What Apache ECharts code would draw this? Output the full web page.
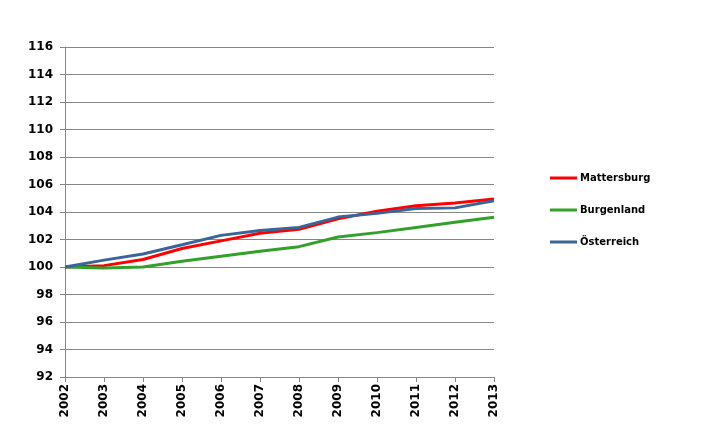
<!DOCTYPE html>
<html><head><meta charset="utf-8">
<script src="https://cdn.jsdelivr.net/npm/echarts@6/dist/echarts.min.js"></script>
<style>html,body{margin:0;padding:0;background:#fff}#c{width:714px;height:432px}</style>
</head><body><div id="c"></div>
<script>
const years = ['2002','2003','2004','2005','2006','2007','2008','2009','2010','2011','2012','2013'];
const mattersburg = [100, 100.1, 100.55, 101.35, 101.9, 102.45, 102.75, 103.5, 104.05, 104.45, 104.65, 104.95];
const burgenland = [100, 99.92, 100.0, 100.42, 100.78, 101.14, 101.48, 102.18, 102.5, 102.88, 103.25, 103.62];
const oesterreich = [100, 100.5, 100.95, 101.62, 102.3, 102.66, 102.88, 103.63, 103.9, 104.25, 104.3, 104.82];

const chart = echarts.init(document.getElementById('c'), null, {renderer:'canvas'});
const font = 'DejaVu Sans';
function line(name, data, color){
  return {name, type:'line', data, symbol:'none', smooth:false,
    lineStyle:{color, width:3}, itemStyle:{color}, animation:false};
}
chart.setOption({
  animation:false,
  backgroundColor:'#fff',
  grid:{left:65, right:220, top:47, bottom:55, containLabel:false},
  legend:{
    orient:'vertical', left:545, top:168, itemGap:22,
    icon:'rect', itemWidth:27, itemHeight:3,
    textStyle:{fontFamily:font, fontSize:10, fontWeight:'bold', color:'#000', padding:[0,0,0,-2]},
    data:['Mattersburg','Burgenland','Österreich']
  },
  xAxis:{
    type:'category', data:years, boundaryGap:false,
    axisLine:{lineStyle:{color:'#868686', width:1}},
    axisTick:{show:true, length:5, lineStyle:{color:'#868686'}},
    axisLabel:{rotate:90, fontFamily:font, fontSize:12, fontWeight:'bold', color:'#000', margin:7},
    splitLine:{show:false}
  },
  yAxis:{
    type:'value', min:92, max:116, interval:2,
    axisLine:{show:true, lineStyle:{color:'#868686', width:1}},
    axisTick:{show:true, length:5, lineStyle:{color:'#868686'}},
    axisLabel:{fontFamily:font, fontSize:12, fontWeight:'bold', color:'#000', margin:12},
    splitLine:{show:true, lineStyle:{color:'#868686', width:1}}
  },
  series:[
    line('Mattersburg', mattersburg, '#ff0000'),
    line('Burgenland', burgenland, '#33a02a'),
    line('Österreich', oesterreich, '#3a6598')
  ]
});
</script></body></html>
